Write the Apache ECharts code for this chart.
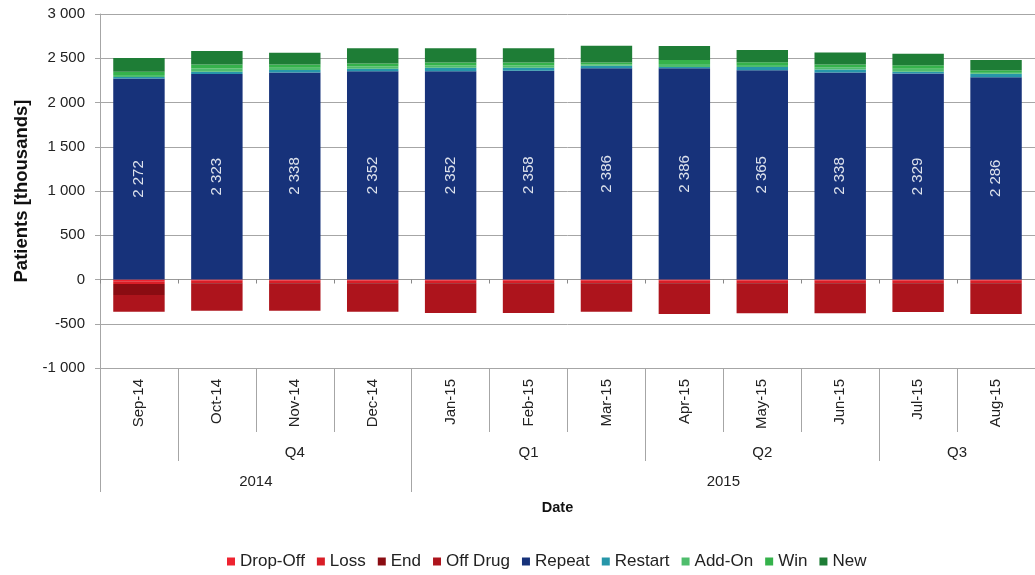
<!DOCTYPE html>
<html>
<head>
<meta charset="utf-8">
<script src="https://cdn.jsdelivr.net/npm/echarts@6/dist/echarts.min.js"></script>
<style>
html,body{margin:0;padding:0;background:#fff;}
#c{width:1035px;height:575px;}
</style>
</head>
<body>
<div id="c"></div>
<script>
const months = ['Sep-14','Oct-14','Nov-14','Dec-14','Jan-15','Feb-15','Mar-15','Apr-15','May-15','Jun-15','Jul-15','Aug-15'];
const quarterLabels = [{at: 2.5, text: 'Q4'}, {at: 5.5, text: 'Q1'}, {at: 8.5, text: 'Q2'}, {at: 11, text: 'Q3'}];
const quarterBounds = [1, 4, 7, 10];
const yearLabels = [{at: 2, text: '2014'}, {at: 8, text: '2015'}];
const yearBounds = [0, 4];
const yTicks = {min: -1000, max: 3000, interval: 500};

const dropOff = [-20, -15, -15, -15, -15, -15, -15, -15, -15, -15, -15, -15];
const loss    = [-30, -25, -25, -25, -25, -25, -25, -25, -25, -25, -25, -25];
const end     = [-125, -8, -8, -8, -8, -8, -8, -8, -8, -8, -8, -8];
const offDrug = [-189, -305, -305, -316, -330, -330, -316, -342, -334, -334, -319, -342];
const repeat  = [2272, 2323, 2338, 2352, 2352, 2358, 2386, 2386, 2365, 2338, 2329, 2286];
const restart = [15, 25, 30, 30, 40, 35, 30, 15, 35, 35, 18, 40];
const addOn   = [25, 35, 25, 25, 25, 25, 15, 35, 25, 25, 35, 18];
const win     = [35, 45, 35, 35, 35, 35, 20, 45, 30, 32, 40, 20];
const newPts  = [155, 155, 135, 170, 160, 160, 190, 157, 138, 135, 130, 115];

function fmt(v) {
  const s = String(Math.abs(Math.round(v))).replace(/\B(?=(\d{3})+(?!\d))/g, ' ');
  return (v < 0 ? '-' : '') + s;
}

const FONT = 'Liberation Sans, Arial, sans-serif';
const GRAY = '#a6a6a6';

const seriesDefs = [
  ['Drop-Off', dropOff, '#ee2330'],
  ['Loss', loss, '#d91e27'],
  ['End', end, '#8a0c12'],
  ['Off Drug', offDrug, '#ad141c'],
  ['Repeat', repeat, '#17327a'],
  ['Restart', restart, '#2696a9'],
  ['Add-On', addOn, '#4fbd6c'],
  ['Win', win, '#35b24b'],
  ['New', newPts, '#1e7d36']
];

const series = seriesDefs.map(([name, data, color]) => {
  const s = {
    name, type: 'bar', stack: 'total', data, barWidth: '66%',
    xAxisIndex: 0, yAxisIndex: 0,
    itemStyle: {color},
    emphasis: {disabled: true}
  };
  if (name === 'Repeat') {
    s.label = {
      show: true, position: 'inside', rotate: 90, color: '#dde2ec',
      fontFamily: FONT, fontSize: 15, formatter: p => fmt(p.value)
    };
  }
  return s;
});

const chart = echarts.init(document.getElementById('c'), null, {renderer: 'canvas'});
chart.setOption({
  animation: false,
  backgroundColor: '#fff',
  textStyle: {fontFamily: FONT},
  grid: {left: 100, right: -12, top: 14, bottom: 207, containLabel: false},
  legend: {
    left: 227, top: 553, padding: 0, itemGap: 12, itemWidth: 8, itemHeight: 8, icon: 'rect',
    textStyle: {fontFamily: FONT, fontSize: 17, color: '#222'},
    data: seriesDefs.map(d => d[0])
  },
  yAxis: {
    type: 'value', min: yTicks.min, max: yTicks.max, interval: yTicks.interval,
    name: 'Patients [thousands]', nameLocation: 'middle', nameGap: 68,
    nameTextStyle: {fontFamily: FONT, fontSize: 18.5, fontWeight: 'bold', color: '#111'},
    axisLine: {show: true, onZero: false, lineStyle: {color: GRAY}},
    axisTick: {show: true, length: 5, lineStyle: {color: GRAY}},
    axisLabel: {fontFamily: FONT, fontSize: 15, color: '#222', margin: 15, formatter: v => fmt(v)},
    splitLine: {show: true, lineStyle: {color: GRAY}}
  },
  xAxis: [
    {
      type: 'category', data: months, position: 'bottom',
      axisLine: {show: true, onZero: false, lineStyle: {color: GRAY}},
      axisTick: {show: true, interval: 0, length: 64, lineStyle: {color: GRAY}},
      axisLabel: {interval: 0, rotate: 90, margin: 11, fontFamily: FONT, fontSize: 15, color: '#222'},
      splitLine: {show: false}
    },
    {
      type: 'value', min: 0, max: 12, position: 'bottom',
      axisLine: {show: false, onZero: false},
      axisTick: {show: true, customValues: quarterBounds, length: 93, lineStyle: {color: GRAY}},
      axisLabel: {
        customValues: quarterLabels.map(q => q.at), margin: 77,
        fontFamily: FONT, fontSize: 15, color: '#222',
        formatter: v => { const q = quarterLabels.find(e => e.at === v); return q ? q.text : ''; }
      },
      splitLine: {show: false}
    },
    {
      type: 'value', min: 0, max: 12, position: 'bottom',
      name: 'Date', nameLocation: 'middle', nameGap: 132,
      nameTextStyle: {fontFamily: FONT, fontSize: 14.5, fontWeight: 'bold', color: '#111', padding: [0, 20, 0, 0]},
      axisLine: {show: false, onZero: false},
      axisTick: {show: true, customValues: yearBounds, length: 124, lineStyle: {color: GRAY}},
      axisLabel: {
        customValues: yearLabels.map(q => q.at), margin: 106,
        fontFamily: FONT, fontSize: 15, color: '#222',
        formatter: v => { const q = yearLabels.find(e => e.at === v); return q ? q.text : ''; }
      },
      splitLine: {show: false}
    },
    {
      type: 'category', data: months, position: 'bottom',
      axisLine: {show: true, onZero: true, lineStyle: {color: '#999'}},
      axisTick: {show: true, interval: 0, length: 4, lineStyle: {color: '#888'}},
      axisLabel: {show: false},
      splitLine: {show: false}
    }
  ],
  series
});
</script>
</body>
</html>
